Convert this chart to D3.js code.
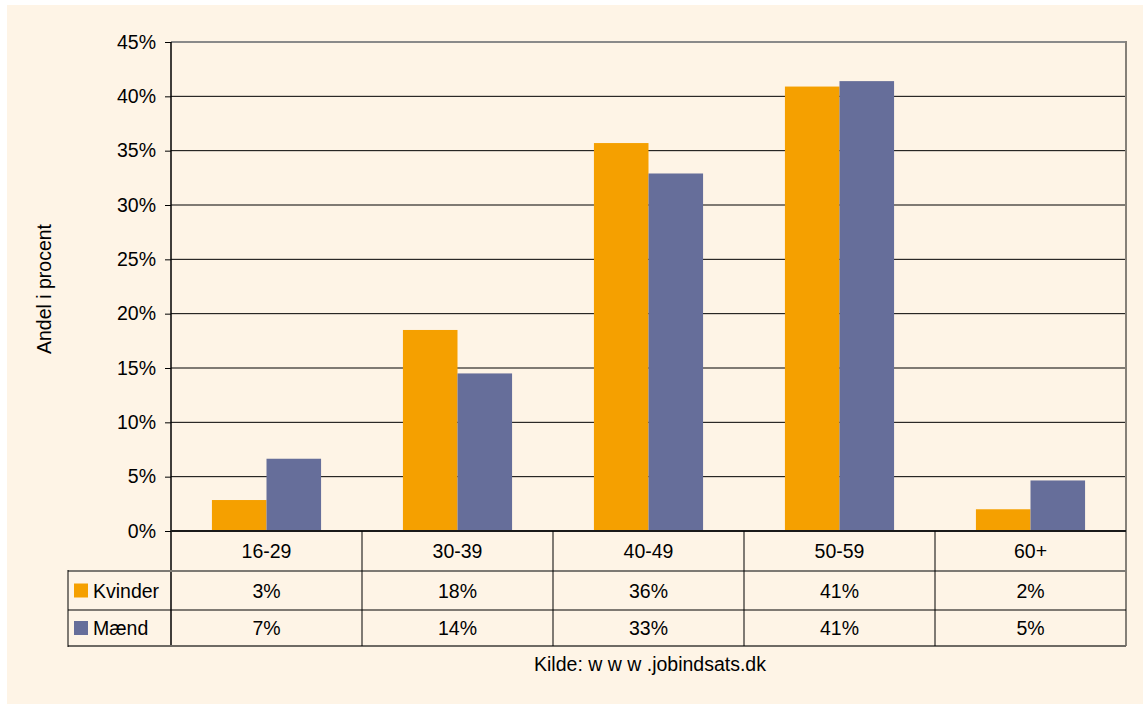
<!DOCTYPE html>
<html lang="en">
  <head>
    <meta charset="utf-8">
    <script src="https://d3js.org/d3.v7.min.js"></script>
    <style>
      body {margin: 0; background: #ffffff;}
      text {font-family: "Liberation Sans", Arial, sans-serif; fill: #000;}
    </style>
  </head>
  <body>
    <script type="text/javascript">
      // data
      const categories = ["16-29", "30-39", "40-49", "50-59", "60+"];
      const seriesNames = ["Kvinder", "Mænd"];
      const kvinder = [2.85, 18.5, 35.7, 40.9, 2.0];
      const maend = [6.65, 14.5, 32.9, 41.4, 4.65];
      const kvinderLabels = ["3%", "18%", "36%", "41%", "2%"];
      const maendLabels = ["7%", "14%", "33%", "41%", "5%"];
      const yTicks = [0, 5, 10, 15, 20, 25, 30, 35, 40, 45];

      const colors = ["#f5a000", "#666e9a"];
      const w = 1143;
      const h = 704;
      const fs = 19.5;

      // plot area
      const plotLeft = 171, plotRight = 1126, plotTop = 42, plotBottom = 531;
      const rowTops = [531, 571, 610, 646];
      const tableLeft = 68;

      const svg = d3.select("body")
            .append("svg")
            .attr("width", w)
            .attr("height", h);

      // cream background
      svg.append("rect")
          .attr("x", 7).attr("y", 5)
          .attr("width", w - 7).attr("height", h - 5)
          .attr("fill", "#fef4e6");

      const yScale = d3.scaleLinear().domain([0, 45]).range([plotBottom, plotTop]);
      const xScale = d3.scaleBand().domain(categories).range([plotLeft, plotRight]);
      // excel style gap width 150%
      const barW = xScale.bandwidth() / 3.5;
      const gap = barW * 0.75;

      // gridlines
      svg.selectAll(".grid")
          .data(yTicks.filter(d => d > 0))
          .enter()
          .append("line")
          .attr("x1", plotLeft).attr("x2", plotRight)
          .attr("y1", d => yScale(d)).attr("y2", d => yScale(d))
          .attr("stroke", d => d === 45 ? "#8a8a8a" : "#000")
          .attr("stroke-width", d => d === 45 ? 2 : 1);

      // right border of plot
      svg.append("line")
          .attr("x1", plotRight).attr("x2", plotRight)
          .attr("y1", plotTop - 1).attr("y2", rowTops[3])
          .attr("stroke", "#858078").attr("stroke-width", 2);

      // bars
      const series = [kvinder, maend];
      series.forEach(function(values, s) {
        svg.selectAll(".bar" + s)
            .data(values)
            .enter()
            .append("rect")
            .attr("x", (d, i) => xScale(categories[i]) + gap + s * barW)
            .attr("y", d => yScale(d))
            .attr("width", barW)
            .attr("height", d => plotBottom - yScale(d))
            .attr("fill", colors[s]);
      });

      // y axis
      const yAxis = d3.axisLeft(yScale)
          .tickValues(yTicks)
          .tickSize(6)
          .tickFormat(d => d + "%");
      const gy = svg.append("g")
          .attr("transform", "translate(" + plotLeft + ",0)")
          .call(yAxis);
      gy.select(".domain").remove();
      gy.selectAll(".tick line").attr("stroke", "#000");
      gy.selectAll(".tick text")
          .attr("x", -15)
          .attr("font-size", fs)
          .style("font-family", "Liberation Sans, Arial, sans-serif");
      svg.append("line")
          .attr("x1", plotLeft).attr("x2", plotLeft)
          .attr("y1", plotTop).attr("y2", rowTops[3])
          .attr("stroke", "#000").attr("stroke-width", 1.5);

      // zero line
      svg.append("line")
          .attr("x1", plotLeft).attr("x2", plotRight)
          .attr("y1", plotBottom).attr("y2", plotBottom)
          .attr("stroke", "#1a1a1a").attr("stroke-width", 2);

      // data table lines
      svg.append("line")
          .attr("x1", tableLeft).attr("x2", plotRight)
          .attr("y1", rowTops[1]).attr("y2", rowTops[1])
          .attr("stroke", "#7d7a74").attr("stroke-width", 2);
      svg.append("line")
          .attr("x1", tableLeft).attr("x2", plotRight)
          .attr("y1", rowTops[2]).attr("y2", rowTops[2])
          .attr("stroke", "#000").attr("stroke-width", 1);
      svg.append("line")
          .attr("x1", tableLeft).attr("x2", plotRight)
          .attr("y1", rowTops[3]).attr("y2", rowTops[3])
          .attr("stroke", "#6e6a64").attr("stroke-width", 2);
      svg.append("line")
          .attr("x1", tableLeft).attr("x2", tableLeft)
          .attr("y1", rowTops[1] - 1).attr("y2", rowTops[3] + 1)
          .attr("stroke", "#000").attr("stroke-width", 1);
      svg.selectAll(".vline")
          .data(categories.slice(1))
          .enter()
          .append("line")
          .attr("x1", d => xScale(d)).attr("x2", d => xScale(d))
          .attr("y1", plotBottom).attr("y2", rowTops[3])
          .attr("stroke", "#000").attr("stroke-width", 1);

      // category row
      svg.selectAll(".cat")
          .data(categories)
          .enter()
          .append("text")
          .attr("x", d => xScale(d) + xScale.bandwidth() / 2)
          .attr("y", (rowTops[0] + rowTops[1]) / 2 + 7)
          .attr("text-anchor", "middle")
          .attr("font-size", fs)
          .text(d => d);

      // value rows
      [kvinderLabels, maendLabels].forEach(function(labels, s) {
        const cy = (rowTops[s + 1] + rowTops[s + 2]) / 2;
        svg.selectAll(".val" + s)
            .data(labels)
            .enter()
            .append("text")
            .attr("x", (d, i) => xScale(categories[i]) + xScale.bandwidth() / 2)
            .attr("y", cy + 7)
            .attr("text-anchor", "middle")
            .attr("font-size", fs)
            .text(d => d);
        // legend key
        svg.append("rect")
            .attr("x", 74).attr("y", cy - 7)
            .attr("width", 14).attr("height", 14)
            .attr("fill", colors[s]);
        svg.append("text")
            .attr("x", 93).attr("y", cy + 7)
            .attr("font-size", fs)
            .text(seriesNames[s]);
      });

      // axis title
      svg.append("text")
          .attr("transform", "translate(51,289) rotate(-90)")
          .attr("text-anchor", "middle")
          .attr("font-size", fs)
          .text("Andel i procent");

      // source
      svg.append("text")
          .attr("x", 650).attr("y", 671)
          .attr("text-anchor", "middle")
          .attr("font-size", fs)
          .text("Kilde: w w w .jobindsats.dk");
    </script>
  </body>
</html>
